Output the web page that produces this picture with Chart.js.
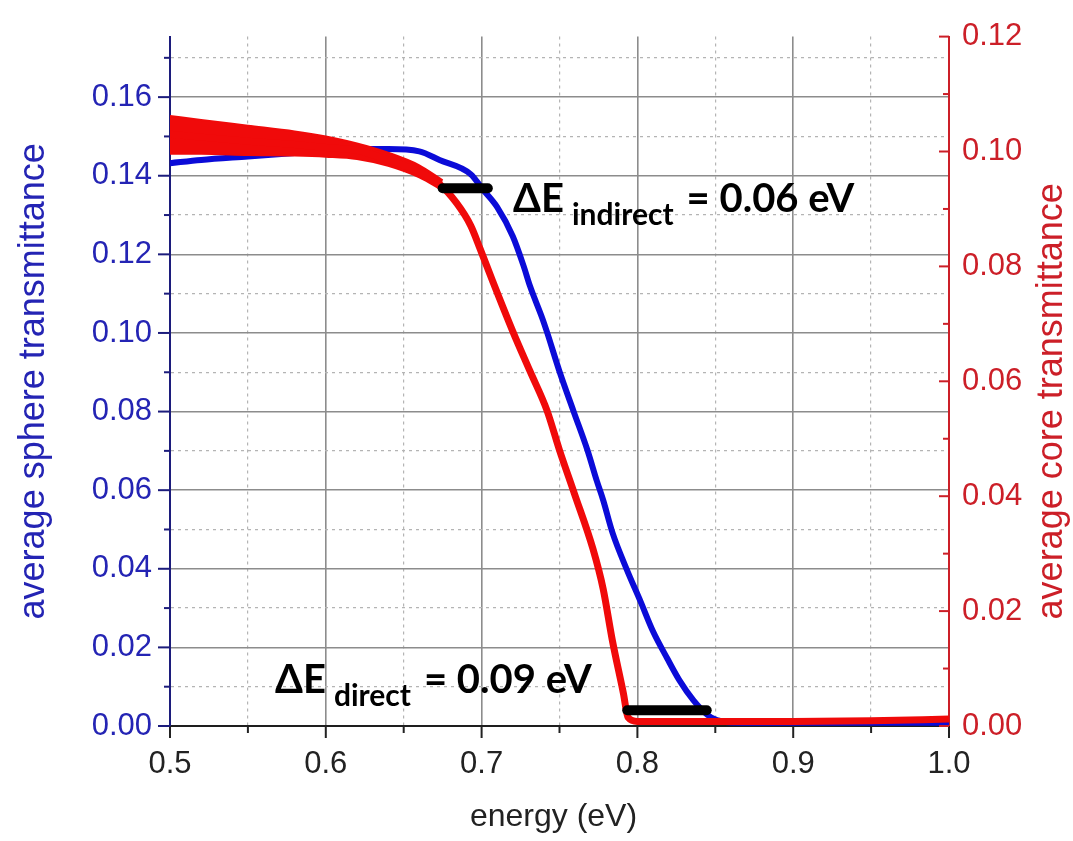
<!DOCTYPE html>
<html>
<head>
<meta charset="utf-8">
<script src="https://cdn.jsdelivr.net/npm/chart.js@4.4.0/dist/chart.umd.min.js"></script>
<style>
html, body { margin: 0; padding: 0; background: #fff; }
#wrap { width: 1073px; height: 841px; }
</style>
</head>
<body>
<div id="wrap"><canvas id="graph_canvas" width="1073" height="841"></canvas></div>
<script>
// sphere transmittance (left axis)
sphereEnergy = [0.500, 0.520, 0.550, 0.580, 0.600, 0.620, 0.640, 0.660, 0.673, 0.693, 0.701, 0.710, 0.720, 0.727, 0.731, 0.739, 0.742, 0.750, 0.759, 0.768, 0.774, 0.778, 0.784, 0.793, 0.802, 0.810, 0.819, 0.827, 0.836, 0.845, 0.851, 0.860, 0.900, 0.950, 1.000];
sphereT = [0.1432, 0.1440, 0.1449, 0.1458, 0.1464, 0.1468, 0.1468, 0.1462, 0.1440, 0.1404, 0.1364, 0.1320, 0.1246, 0.1170, 0.1120, 0.1037, 0.1002, 0.0902, 0.0801, 0.0701, 0.0623, 0.0575, 0.0492, 0.0400, 0.0317, 0.0241, 0.0173, 0.0116, 0.0065, 0.0028, 0.0015, 0.0009, 0.0008, 0.0008, 0.0008];

// core transmittance (right axis)
coreEnergy = [0.500, 0.520, 0.550, 0.580, 0.600, 0.620, 0.635, 0.656, 0.673, 0.684, 0.693, 0.699, 0.707, 0.720, 0.731, 0.742, 0.750, 0.7595, 0.7715, 0.778, 0.784, 0.791, 0.794, 0.800, 0.850, 0.900, 0.950, 1.000];
coreT = [0.1030, 0.1025, 0.1018, 0.1012, 0.1007, 0.1002, 0.0990, 0.0969, 0.0943, 0.0910, 0.0871, 0.0831, 0.0775, 0.0687, 0.0618, 0.0549, 0.0480, 0.0405, 0.0308, 0.0239, 0.0148, 0.0057, 0.0015, 0.0008, 0.0008, 0.0008, 0.0009, 0.0012];

// noise band of the core curve at low energy
bandEnergy = [0.500, 0.520, 0.550, 0.580, 0.600, 0.620, 0.640, 0.660, 0.675];
bandHigh = [0.1062, 0.1055, 0.1045, 0.1035, 0.1026, 0.1014, 0.0998, 0.0976, 0.0950];
bandLow = [0.0996, 0.0996, 0.0994, 0.0993, 0.0991, 0.0987, 0.0975, 0.0955, 0.0932];

// black gap markers (left axis)
indirectE = [0.675, 0.704];
indirectT = [0.1368, 0.1368];
directE = [0.7935, 0.8445];
directT = [0.0040, 0.0040];

// ticks
xTickValues = [0.5, 0.55, 0.6, 0.65, 0.7, 0.75, 0.8, 0.85, 0.9, 0.95, 1.0];
xTickLabels = ['0.5', '', '0.6', '', '0.7', '', '0.8', '', '0.9', '', '1.0'];
leftTickValues = [0, 0.01, 0.02, 0.03, 0.04, 0.05, 0.06, 0.07, 0.08, 0.09, 0.10, 0.11, 0.12, 0.13, 0.14, 0.15, 0.16, 0.17];
leftTickLabels = ['0.00', '', '0.02', '', '0.04', '', '0.06', '', '0.08', '', '0.10', '', '0.12', '', '0.14', '', '0.16', ''];
rightTickValues = [0, 0.01, 0.02, 0.03, 0.04, 0.05, 0.06, 0.07, 0.08, 0.09, 0.10, 0.11, 0.12];
rightTickLabels = ['0.00', '', '0.02', '', '0.04', '', '0.06', '', '0.08', '', '0.10', '', '0.12'];

blue = '#0b0bd8';
red = '#f00a0a';
navy = '#1c1c7c';
axisRed = '#cc1f28';
sansFont = '"Liberation Sans", Arial, sans-serif';

function pts(xs, ys) {
    return xs.map(function(x, i) { return {x: x, y: ys[i]}; });
}

function gridColor(labels) {
    return function(c) {
        if (!c.tick || c.index === 0) return 'rgba(0,0,0,0)';
        return labels[c.index] ? '#8c8c8c' : '#b4b4b4';
    };
}
function gridDash(labels) {
    return function(c) {
        if (!c.tick) return [];
        return labels[c.index] ? [] : [3, 4];
    };
}

// tick marks drawn by hand: left/bottom outward, right inward
const tickMarks = {
    id: 'tickMarks',
    afterDraw(chart) {
        const ctx = chart.ctx;
        const x = chart.scales.x, y = chart.scales.y, y2 = chart.scales.y2;
        ctx.save();
        ctx.lineWidth = 2;
        ctx.strokeStyle = '#222';
        xTickValues.forEach(function(v, i) {
            const px = x.getPixelForValue(v);
            const len = xTickLabels[i] ? 12 : 7;
            ctx.beginPath(); ctx.moveTo(px, x.top); ctx.lineTo(px, x.top + len); ctx.stroke();
        });
        ctx.strokeStyle = navy;
        leftTickValues.forEach(function(v, i) {
            const py = y.getPixelForValue(v);
            const len = leftTickLabels[i] ? 12 : 6;
            ctx.beginPath(); ctx.moveTo(y.right, py); ctx.lineTo(y.right - len, py); ctx.stroke();
        });
        ctx.strokeStyle = axisRed;
        rightTickValues.forEach(function(v, i) {
            const py = y2.getPixelForValue(v);
            const len = rightTickLabels[i] ? 10 : 6;
            ctx.beginPath(); ctx.moveTo(y2.left, py); ctx.lineTo(y2.left - len, py); ctx.stroke();
        });
        ctx.restore();
    }
};

// axis titles and the two delta-E notes
const texts = {
    id: 'texts',
    afterDraw(chart) {
        const ctx = chart.ctx;
        const x = chart.scales.x, y = chart.scales.y;
        const area = chart.chartArea;
        const midY = (area.top + area.bottom) / 2;
        ctx.save();
        ctx.font = '36px ' + sansFont;
        ctx.textAlign = 'center';
        ctx.textBaseline = 'middle';

        ctx.fillStyle = '#2424b4';
        ctx.save(); ctx.translate(34, midY); ctx.rotate(-Math.PI / 2);
        ctx.fillText('average sphere transmittance', 0, 0); ctx.restore();

        ctx.fillStyle = axisRed;
        ctx.save(); ctx.translate(1052, midY + 20); ctx.rotate(-Math.PI / 2);
        ctx.fillText('average core transmittance', 0, 0); ctx.restore();

        ctx.font = '32px ' + sansFont;
        ctx.fillStyle = '#222';
        ctx.textBaseline = 'alphabetic';
        ctx.fillText('energy (eV)', (area.left + area.right) / 2 - 6, 826);

        ctx.fillStyle = '#000';
        ctx.textAlign = 'left';
        function note(px, py, sub, rest) {
            ctx.font = 'bold 40px Lato';
            ctx.fillText('\u0394E', px, py);
            const w = ctx.measureText('\u0394E').width;
            ctx.font = 'bold 30px Lato';
            ctx.fillText(sub, px + w + 8, py + 13);
            const w2 = ctx.measureText(sub).width;
            ctx.font = 'bold 40px Lato';
            ctx.fillText(rest, px + w + 8 + w2 + 13, py);
        }
        note(x.getPixelForValue(0.7202), y.getPixelForValue(0.1309), 'indirect', '= 0.06 eV');
        note(x.getPixelForValue(0.5674), y.getPixelForValue(0.0083), 'direct', '= 0.09 eV');
        ctx.restore();
    }
};

const canvas = document.getElementById('graph_canvas');
const ctx = canvas.getContext('2d');
chart = new Chart(ctx, {
    type: 'line',
    data: {
        datasets: [
            {label: 'indirect gap', data: pts(indirectE, indirectT), yAxisID: 'y', borderColor: '#000', borderWidth: 10, borderCapStyle: 'round', pointRadius: 0},
            {label: 'direct gap', data: pts(directE, directT), yAxisID: 'y', borderColor: '#000', borderWidth: 10, borderCapStyle: 'round', pointRadius: 0},
            {label: 'core', data: pts(coreEnergy, coreT), yAxisID: 'y2', borderColor: red, borderWidth: 7, pointRadius: 0, cubicInterpolationMode: 'monotone'},
            {label: 'core band high', data: pts(bandEnergy, bandHigh), yAxisID: 'y2', borderColor: red, borderWidth: 2, backgroundColor: red, pointRadius: 0, fill: '+1', cubicInterpolationMode: 'monotone'},
            {label: 'core band low', data: pts(bandEnergy, bandLow), yAxisID: 'y2', borderColor: red, borderWidth: 2, pointRadius: 0, cubicInterpolationMode: 'monotone'},
            {label: 'sphere', data: pts(sphereEnergy, sphereT), yAxisID: 'y', borderColor: blue, borderWidth: 6, pointRadius: 0, cubicInterpolationMode: 'monotone'}
        ]
    },
    options: {
        responsive: false,
        maintainAspectRatio: false,
        animation: false,
        layout: { padding: { top: 28, left: 0, right: 0, bottom: 0 } },
        plugins: {
            legend: { display: false },
            tooltip: { enabled: false }
        },
        scales: {
            x: {
                type: 'linear',
                min: 0.5,
                max: 1.0,
                afterBuildTicks: function(axis) { axis.ticks = xTickValues.map(function(v) { return {value: v}; }); },
                afterFit: function(axis) { axis.height = 115; },
                ticks: {
                    autoSkip: false,
                    maxRotation: 0,
                    padding: 20,
                    color: '#222',
                    font: { family: sansFont, size: 31 },
                    callback: function(v, i) { return xTickLabels[i]; }
                },
                grid: { drawTicks: false, color: gridColor(xTickLabels), lineWidth: function(c) { return c.tick && xTickLabels[c.index] ? 1.6 : 1.2; } },
                border: { color: '#1e1e1e', width: 2, dash: gridDash(xTickLabels) }
            },
            y: {
                position: 'left',
                min: 0,
                max: 0.1754,
                afterBuildTicks: function(axis) { axis.ticks = leftTickValues.map(function(v) { return {value: v}; }); },
                afterFit: function(axis) { axis.width = 170; },
                ticks: {
                    autoSkip: false,
                    padding: 18,
                    color: '#2424b4',
                    font: { family: sansFont, size: 31 },
                    callback: function(v, i) { return leftTickLabels[i]; }
                },
                grid: { drawTicks: false, color: gridColor(leftTickLabels), lineWidth: function(c) { return c.tick && leftTickLabels[c.index] ? 1.6 : 1.2; } },
                border: { color: navy, width: 2, dash: gridDash(leftTickLabels) }
            },
            y2: {
                position: 'right',
                min: 0,
                max: 0.12,
                afterBuildTicks: function(axis) { axis.ticks = rightTickValues.map(function(v) { return {value: v}; }); },
                afterFit: function(axis) { axis.width = 124; },
                ticks: {
                    autoSkip: false,
                    padding: 13,
                    color: axisRed,
                    font: { family: sansFont, size: 31 },
                    callback: function(v, i) { return rightTickLabels[i]; }
                },
                grid: { drawTicks: false, drawOnChartArea: false },
                border: { color: axisRed, width: 2 }
            }
        }
    },
    plugins: [tickMarks, texts]
});
</script>
</body>
</html>
